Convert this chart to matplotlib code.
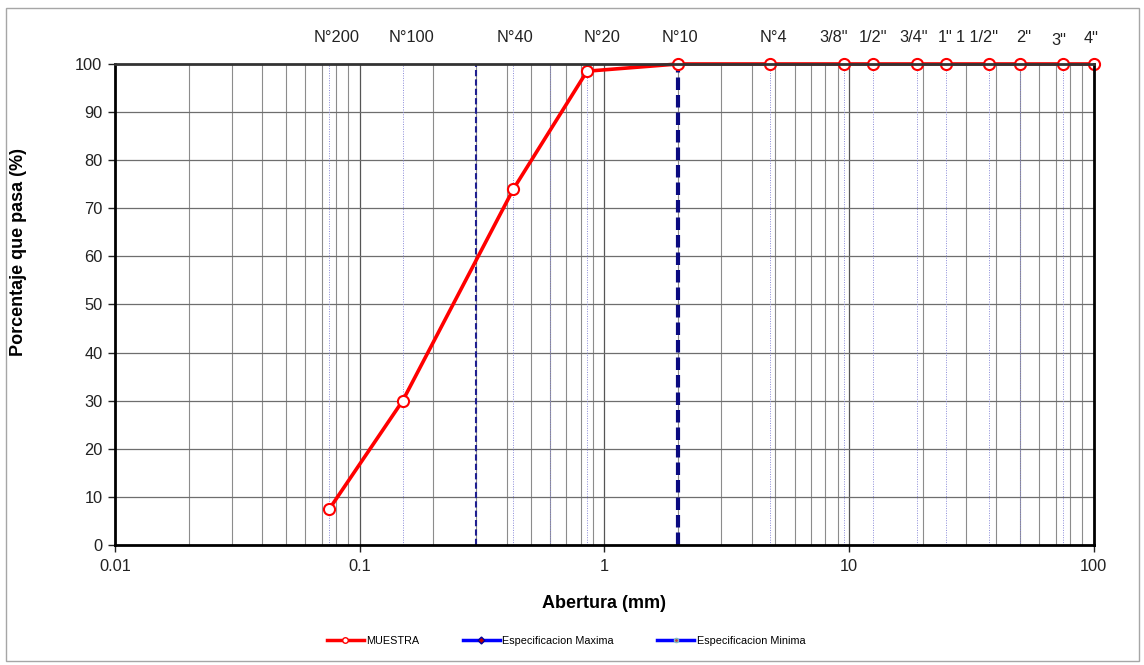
import matplotlib
matplotlib.use("Agg")
import matplotlib.pyplot as plt
from matplotlib.lines import Line2D
from matplotlib.patches import Rectangle
from matplotlib.ticker import FixedLocator, NullFormatter

plt.rcParams['font.family'] = ['Liberation Sans', 'DejaVu Sans']

# Tamices y abertura (mm)
tamices = ["N°200", "N°100", "N°40", "N°20", "N°10", "N°4", '3/8"', '1/2"',
           '3/4"', '1"', '1 1/2"', '2"', '3"', '4"']
abertura = [0.075, 0.15, 0.425, 0.85, 2.0, 4.75, 9.5, 12.5, 19.0, 25.0,
            37.5, 50.0, 75.0, 100.0]
# Porcentaje que pasa de la muestra
pasa = [7.4, 30.0, 74.0, 98.5, 100, 100, 100, 100, 100, 100, 100, 100, 100, 100]

# Lineas verticales de referencia
ref_fina = 0.3
ref_gruesa = 2.0
# Tamices auxiliares marcados con linea punteada
auxiliares = [0.075, 0.15, 0.425, 0.6, 0.85, 4.75, 9.5, 12.5, 19.0, 25.0, 37.5, 50.0, 75.0]

# desplazamiento (px) de los rotulos de tamiz respecto a su abertura
rot_dx = [8, 9, 2, 15, 2, 4, -10, 0, -4, -1, -12, 4, -4, -3]
rot_dy = [0, 0, 0, 0, 0, 0, 0, 0, 0, 0, 0, 0, -3, -1]

fig = plt.figure(figsize=(11.44, 6.65), dpi=100)
ax = fig.add_axes([0.1005, 0.1805, 0.8555, 0.7233])

ax.set_xscale("log")
ax.set_xlim(0.01, 100)
ax.set_ylim(0, 100)

# rejilla
minors = [m * 10.0 ** e for e in range(-2, 2) for m in range(2, 10)]
for x in minors:
    ax.axvline(x, color="#8c8c8c", lw=0.8, zorder=1)
for x in [0.1, 1, 10]:
    ax.axvline(x, color="#555555", lw=0.9, zorder=1)
for y in range(10, 100, 10):
    ax.axhline(y, color="#6e6e6e", lw=0.9, zorder=1)
for x in auxiliares:
    ax.axvline(x, color="#8a8ad8", lw=0.7, ls=(0, (1, 1.5)), zorder=1.5)

ax.axvline(ref_fina, color="#1f1f8f", lw=1.5, ls=(0, (3, 1.5)), zorder=2)
ax.axvline(ref_gruesa, color="#0a0a80", lw=3, ls=(0, (3, 1.2)), zorder=2)

ax.plot(abertura, pasa, color="red", lw=2.6, marker="o", ms=8,
        mfc="white", mec="red", mew=1.5, zorder=5, clip_on=False)

# nombres de tamices arriba
for t, x, dx, dy in zip(tamices, abertura, rot_dx, rot_dy):
    ax.annotate(t, (x, 1.0), xycoords=ax.get_xaxis_transform(),
                xytext=(dx, 19 + dy), textcoords="offset pixels",
                ha="center", va="bottom", fontsize=11.8, color="#222222")

ax.xaxis.set_major_locator(FixedLocator([0.01, 0.1, 1, 10, 100]))
ax.set_xticklabels(["0.01", "0.1", "1", "10", "100"])
ax.xaxis.set_minor_locator(FixedLocator([]))
ax.xaxis.set_minor_formatter(NullFormatter())
ax.set_yticks(range(0, 101, 10))
ax.tick_params(axis="both", labelsize=11.8, colors="#222222", length=5, width=1,
               direction="out")
ax.tick_params(axis="x", pad=5)
ax.tick_params(axis="y", pad=4)

for s in ax.spines.values():
    s.set_color("black")
    s.set_linewidth(2)
    s.set_zorder(6)
ax.spines["top"].set_color("#333333")

ax.set_xlabel("Abertura (mm)", fontsize=13, fontweight="bold")
ax.xaxis.set_label_coords(0.5, -0.105)
ax.set_ylabel("Porcentaje que pasa (%)", fontsize=13, fontweight="bold")
ax.yaxis.set_label_coords(-0.09, 0.61)

handles = [
    Line2D([], [], color="red", lw=2.5, marker="o", ms=4, mfc="white", mec="red"),
    Line2D([], [], color="blue", lw=2.5, marker="D", ms=3.5, mfc="#c00000", mec="#0000a0"),
    Line2D([], [], color="blue", lw=2.5, marker="o", ms=3, mfc="#c04040", mec="#80c0c0"),
]
fig.legend(handles, ["MUESTRA", "Especificacion Maxima", "Especificacion Minima"],
           loc="center", bbox_to_anchor=(0.495, 0.036), ncol=3, frameon=False,
           fontsize=7.8, handlelength=3.4, handletextpad=0.25, columnspacing=4.0)

fig.patches.append(Rectangle((6 / 1144, 1 - 661 / 665), 1133 / 1144, 653 / 665,
                             transform=fig.transFigure, fill=False,
                             edgecolor="#a6a6a6", lw=1))

fig.savefig("out.png", dpi=100, facecolor="white")
